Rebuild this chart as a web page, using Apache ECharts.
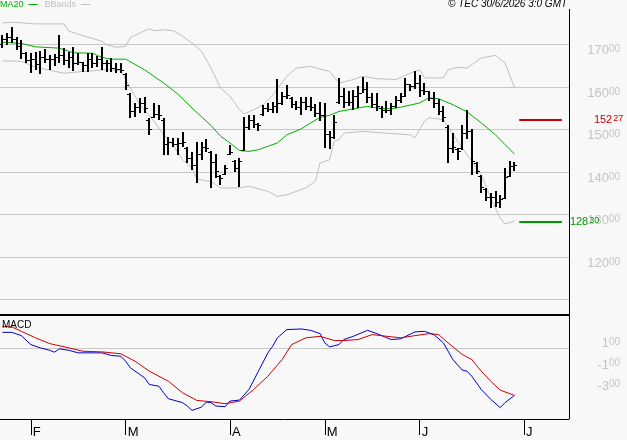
<!DOCTYPE html>
<html><head><meta charset="utf-8">
<script src="https://cdn.jsdelivr.net/npm/echarts@6/dist/echarts.min.js"></script>
<style>html,body{margin:0;padding:0;background:#f8f8f8}#c{width:627px;height:440px}</style>
</head><body><div id="c"></div>
<script>
// trading days (categories)
const tradingDays = {
  '2026-01': [23,26,27,28,29,30],
  '2026-02': [2,3,4,5,6,9,10,11,12,13,16,17,18,19,20,23,24,25,26,27],
  '2026-03': [2,3,4,5,6,9,10,11,12,13,16,17,18,19,20,23,24,25,26,27,30,31],
  '2026-04': [1,2,7,8,9,10,13,14,15,16,17,20,21,22,23,24,27,28,29,30],
  '2026-05': [4,5,6,7,8,11,12,13,14,15,18,19,20,21,22,25,26,27,28,29],
  '2026-06': [1,2,3,4,5,8,9,10,11,12,15,16,17,18,19,22,23,24,25,26,29,30],
  '2026-07': [1,2,3,6,7,8,9,10,13,14]
};
const monthLetters = {'02':'F','03':'M','04':'A','05':'M','06':'J','07':'J'};
const priceTicksShown = [120,130,140,150,160,170];
const macdTicksShown = [1,-1,-3];

const highs = [172.2,172.6,174.0,171.8,171.0,168.3,168.0,168.3,168.5,168.8,
 167.5,167.7,172.3,169.1,168.3,169.3,167.9,165.9,167.9,167.9,
 167.3,169.4,166.3,166.7,165.7,165.7,163.2,158.5,156.1,157.3,
 157.7,152.6,156.1,155.7,152.6,148.3,147.9,147.9,149.4,145.9,
 144.7,147.1,147.1,147.7,144.9,144.2,139.3,141.6,146.3,142.8,
 143.3,152.9,153.4,153.4,151.5,155.7,156.2,156.4,161.8,158.8,
 160.4,157.7,156.7,157.7,157.7,157.6,156.0,156.5,156.2,149.6,
 153.4,162.1,159.7,158.9,159.3,160.1,162.3,161.1,158.5,158.5,
 155.4,156.6,156.2,157.8,158.5,162.0,160.7,163.7,162.8,161.0,
 159.0,158.7,157.1,155.4,150.9,149.2,145.6,151.0,154.5,150.1,
 142.4,139.3,136.2,135.0,135.4,134.6,140.9,142.6,142.2];
const lows = [169.2,169.8,170.2,168.7,166.5,165.5,163.3,164.0,163.0,165.5,
 164.0,164.9,165.5,165.1,164.4,163.8,165.1,163.6,163.6,164.4,
 164.7,164.0,163.6,163.6,163.2,163.2,159.3,152.6,153.0,153.8,
 153.8,148.7,152.6,152.2,144.0,144.0,145.9,144.0,145.9,142.1,
 140.4,137.3,142.8,144.7,136.3,138.5,136.8,139.3,144.0,140.0,
 136.5,144.8,149.8,150.2,149.5,153.1,154.1,153.8,153.8,155.7,
 157.1,155.1,154.5,153.4,154.5,154.3,152.9,152.0,145.6,145.4,
 147.7,156.0,155.0,155.4,154.6,155.0,158.5,156.2,155.0,154.2,
 152.7,153.8,153.4,155.0,156.2,157.5,159.1,159.5,157.7,158.0,
 156.7,155.1,153.3,151.7,142.0,144.4,142.8,145.1,147.7,139.3,
 139.4,135.1,133.2,131.5,131.7,131.4,133.6,138.7,140.3];
const opens = [170.0,171.3,171.8,171.3,169.6,167.9,166.3,166.6,165.3,166.9,
 166.5,166.5,166.9,167.5,166.3,167.1,165.5,165.9,165.2,166.6,
 165.5,166.5,165.6,165.5,164.5,164.3,163.0,158.2,154.4,155.2,
 156.3,152.3,153.0,153.7,152.3,146.6,147.0,146.5,146.7,145.6,
 143.2,141.7,144.2,145.8,144.6,142.3,139.0,139.6,144.3,142.5,
 140.8,145.2,150.5,152.3,151.2,153.5,154.9,154.7,155.6,156.2,
 157.9,157.4,155.9,155.2,156.4,155.5,155.3,153.8,153.4,148.8,
 148.3,156.4,157.8,156.4,156.4,157.9,158.6,159.6,157.7,156.0,
 155.1,154.6,154.6,155.4,157.0,157.8,160.6,160.2,160.8,159.2,
 158.9,157.4,156.2,154.4,150.6,145.5,145.3,145.5,149.2,149.7,
 142.0,139.0,135.9,134.1,134.0,132.8,133.9,139.0,141.4];
const closes = [171.3,171.8,171.3,169.6,167.9,166.3,166.6,165.3,166.9,166.5,
 166.5,166.9,167.5,166.3,167.1,165.5,165.9,165.2,166.6,165.5,
 166.5,165.6,165.5,164.5,164.3,164.0,160.5,154.4,155.2,156.3,
 155.0,150.0,153.7,153.3,146.6,147.0,146.5,146.7,147.0,143.2,
 141.7,144.2,145.8,145.6,142.3,140.2,138.6,140.9,144.7,140.8,
 142.5,150.5,152.3,151.2,150.9,154.9,154.7,155.6,156.2,157.9,
 158.1,155.9,155.2,156.4,155.5,155.3,153.8,153.4,148.8,148.3,
 151.7,157.8,156.4,156.4,157.9,158.6,159.6,157.7,156.0,155.5,
 154.6,154.6,155.4,157.0,157.8,160.6,160.2,160.8,159.2,158.9,
 157.4,156.2,154.4,152.8,145.5,145.8,144.8,149.2,149.7,142.5,
 140.3,136.4,134.1,134.0,132.8,133.6,138.7,141.4,141.5];

// indicator lines read at sampled days: [dayIndex, value]
const ma20 = [[0,170.5],[4,170.2],[7,169.4],[12,169.1],[15,168.0],[19,167.9],[21,166.9],[23,166.5],[26,166.5],[30,164.0],[34,160.9],[37,158.3],[40,155.0],[44,150.9],[46,148.4],[48,146.8],[50,145.0],[52,144.8],[54,145.2],[58,146.8],[60,148.7],[63,150.1],[65,151.5],[67,152.8],[69,153.3],[71,154.2],[74,154.8],[77,155.4],[79,155.0],[82,154.8],[84,155.2],[88,156.2],[90,157.4],[92,157.2],[95,155.8],[98,154.1],[101,151.5],[104,148.7],[106,146.4],[108,144.2]];
const bbUpper = [[0,175.0],[2,175.2],[7,174.8],[13,174.8],[14,173.1],[16,172.4],[21,170.7],[22,169.9],[24,169.3],[26,169.5],[27,171.6],[31,173.7],[32,173.2],[34,173.4],[36,173.2],[38,171.9],[40,170.3],[42,168.4],[44,164.4],[46,159.7],[48,157.8],[50,154.6],[51,153.6],[53,154.6],[55,155.8],[57,158.1],[60,162.5],[62,164.4],[65,164.8],[69,163.6],[71,160.9],[74,161.7],[76,162.5],[79,161.9],[83,161.7],[86,163.2],[88,164.0],[89,162.1],[93,162.1],[94,164.0],[96,164.6],[98,164.4],[101,166.8],[104,167.4],[106,165.6],[108,159.9]];
const bbLower = [[0,166.1],[4,166.0],[7,164.6],[13,163.2],[17,163.6],[22,164.0],[25,163.8],[27,159.7],[29,155.8],[32,151.9],[34,148.7],[36,146.4],[38,142.8],[40,140.9],[41,138.4],[43,137.8],[44,137.8],[46,136.2],[50,136.2],[52,136.6],[56,135.4],[58,134.2],[60,134.6],[64,136.2],[66,137.8],[67,142.1],[69,142.8],[70,147.2],[71,147.6],[72,149.1],[76,149.5],[81,149.1],[86,148.7],[87,148.0],[89,151.9],[90,152.7],[93,152.3],[96,147.2],[98,144.0],[101,139.3],[103,133.8],[105,129.1],[106,127.7],[108,128.4]];
const macdLine = [[0,1.46],[2,1.46],[4,1.15],[6,0.31],[8,0.0],[10,-0.23],[11,-0.41],[12,-0.09],[14,-0.23],[16,-0.47],[21,-0.47],[23,-0.72],[25,-0.79],[26,-1.26],[27,-1.88],[29,-2.51],[30,-2.82],[31,-3.45],[33,-3.61],[34,-4.23],[35,-4.79],[38,-5.16],[39,-5.48],[40,-5.89],[42,-5.58],[43,-5.11],[44,-5.16],[45,-5.48],[47,-5.54],[48,-5.01],[50,-4.92],[52,-3.92],[54,-2.20],[56,-0.47],[57,0.15],[58,0.94],[60,1.72],[63,1.78],[65,1.65],[67,1.34],[68,0.47],[69,0.09],[71,0.31],[72,0.78],[74,1.09],[77,1.65],[79,1.34],[82,0.78],[84,0.85],[87,1.50],[89,1.56],[91,1.25],[93,0.47],[95,-1.10],[97,-2.10],[98,-2.20],[99,-2.67],[101,-3.92],[103,-4.85],[105,-5.63],[106,-5.16],[108,-4.48]];
const signalLine = [[0,2.03],[2,1.97],[4,1.56],[7,0.94],[10,0.40],[14,0.0],[17,-0.32],[21,-0.38],[25,-0.56],[28,-1.26],[31,-2.20],[35,-3.14],[38,-4.23],[41,-4.95],[44,-5.07],[47,-5.26],[50,-5.01],[53,-3.92],[56,-2.67],[59,-1.10],[61,0.31],[64,0.94],[67,1.09],[70,0.69],[72,0.69],[75,0.78],[78,1.25],[81,1.09],[84,0.94],[87,1.15],[90,1.34],[92,1.25],[94,0.47],[97,-0.63],[99,-1.10],[101,-2.20],[103,-3.14],[105,-3.98],[108,-4.48]];
const resistance = 152.27, support = 128.30;
const levelFrom = 109, levelTo = 118;

// build category table
const categories = [];
Object.keys(tradingDays).forEach(m => tradingDays[m].forEach(d => categories.push(m + '-' + String(d).padStart(2,'0'))));
const isMonthStart = categories.map((c,i) => i > 0 && c.slice(5,7) !== categories[i-1].slice(5,7));
const bars = highs.map((h,i) => [i, opens[i], closes[i], lows[i], h]);

const FONT = 'Liberation Sans, Arial, sans-serif';
const GREY = '#c4c4c4';
const near = (v, list) => list.some(t => Math.abs(v - t) < 1e-6);
function splitNum(v){ const s = v.toFixed(2).split('.'); return '{a|' + s[0] + '}{b|' + s[1] + '}'; }

const chart = echarts.init(document.getElementById('c'), null, {renderer:'canvas'});
chart.setOption({
  animation: false,
  backgroundColor: '#f8f8f8',
  textStyle: {fontFamily: FONT},
  title: [
    {text: '\u00a9 TEC 30/6/2026 3:0 GMT', left: 448, top: -1, padding: 0,
     textStyle: {fontSize: 10, fontStyle: 'italic', fontWeight: 'normal', color: '#000', fontFamily: FONT}},
    {text: 'MACD', left: 2, top: 320, padding: 0,
     textStyle: {fontSize: 10, fontWeight: 'normal', color: '#000', fontFamily: FONT}}
  ],
  legend: {
    left: 0, top: 0, padding: 0, align: 'right', icon: 'rect', itemWidth: 9, itemHeight: 1, itemGap: 7,
    selectedMode: false, textStyle: {fontSize: 9, fontFamily: FONT},
    data: [
      {name: 'MA20', textStyle: {color: '#00b000'}, itemStyle: {color: '#00b000'}},
      {name: 'BBands', textStyle: {color: '#c0c0c0'}, itemStyle: {color: '#c0c0c0'}}
    ]
  },
  grid: [
    {left: 0, top: 1.8, width: 569, height: 340},
    {left: 0, top: 316, width: 569, height: 103}
  ],
  xAxis: [
    {type: 'category', gridIndex: 0, data: categories, boundaryGap: true, show: false},
    {type: 'category', gridIndex: 1, data: categories, boundaryGap: true, position: 'bottom',
     axisLine: {show: true, onZero: false, lineStyle: {color: '#000', width: 1}},
     axisTick: {show: true, inside: false, alignWithLabel: true, length: 16, interval: i => isMonthStart[i], lineStyle: {color: '#000', width: 1}},
     axisLabel: {show: true, interval: i => isMonthStart[i], formatter: v => monthLetters[v.slice(5,7)] || '',
       align: 'left', padding: [0,0,0,2], margin: 7, fontSize: 13, color: '#000', fontFamily: FONT},
     splitLine: {show: false}}
  ],
  yAxis: [
    {type: 'value', gridIndex: 0, position: 'right', min: 100, max: 180, interval: 10,
     axisLine: {show: false}, axisTick: {show: false},
     splitLine: {show: true, showMinLine: false, showMaxLine: false, lineStyle: {color: '#c8c8c8', width: 1}},
     axisLabel: {margin: 51, align: 'right', verticalAlign: 'top',
       formatter: v => near(v, priceTicksShown) ? splitNum(v) : '',
       rich: {a: {fontSize: 13, color: GREY, fontFamily: FONT, lineHeight: 13},
              b: {fontSize: 10, color: GREY, fontFamily: FONT, lineHeight: 10, verticalAlign: 'top'}}}},
    {type: 'value', gridIndex: 1, position: 'right', min: -6.7, max: 3.0, interval: 0.1,
     axisLine: {show: false}, axisTick: {show: false}, splitLine: {show: false},
     axisLabel: {margin: 51, align: 'right', verticalAlign: 'top',
       formatter: v => near(v, macdTicksShown) ? '{a|' + Math.round(v) + '}{b|00}' : '',
       rich: {a: {fontSize: 13, color: GREY, fontFamily: FONT, lineHeight: 13},
              b: {fontSize: 10, color: GREY, fontFamily: FONT, lineHeight: 10, verticalAlign: 'top'}}}}
  ],
  series: [
    {name: 'BBands', type: 'line', xAxisIndex: 0, yAxisIndex: 0, data: bbUpper, showSymbol: false, z: 1,
     lineStyle: {color: '#c0c0c0', width: 1}, itemStyle: {color: '#c0c0c0'}},
    {name: 'BBands', type: 'line', xAxisIndex: 0, yAxisIndex: 0, data: bbLower, showSymbol: false, z: 1,
     lineStyle: {color: '#c0c0c0', width: 1}, itemStyle: {color: '#c0c0c0'},
     markLine: {silent: true, symbol: ['none','none'], animation: false,
       lineStyle: {color: '#009900', width: 2, type: 'solid'},
       label: {show: true, position: 'end', distance: 8, formatter: () => splitNum(support).replace('}{', '}{s| }{'),
         rich: {a: {fontSize: 11, color: '#009900', fontFamily: FONT, lineHeight: 11},
                s: {fontSize: 4}, b: {fontSize: 9, color: '#009900', fontFamily: FONT, lineHeight: 9, verticalAlign: 'top'}}},
       data: [[{coord: [levelFrom, support]}, {coord: [levelTo, support]}]]}},
    {name: 'MA20', type: 'line', xAxisIndex: 0, yAxisIndex: 0, data: ma20, showSymbol: false, z: 2,
     lineStyle: {color: '#00b000', width: 1}, itemStyle: {color: '#00b000'},
     markLine: {silent: true, symbol: ['none','none'], animation: false,
       lineStyle: {color: '#cc0000', width: 2, type: 'solid'},
       label: {show: true, position: 'end', distance: 32, formatter: () => splitNum(resistance).replace('}{', '}{s| }{'),
         rich: {a: {fontSize: 11, color: '#cc0000', fontFamily: FONT, lineHeight: 11},
                s: {fontSize: 4}, b: {fontSize: 9, color: '#cc0000', fontFamily: FONT, lineHeight: 9, verticalAlign: 'top'}}},
       data: [[{coord: [levelFrom, resistance]}, {coord: [levelTo, resistance]}]]}},
    {name: 'Price', type: 'custom', xAxisIndex: 0, yAxisIndex: 0, data: bars, z: 3,
     encode: {x: 0, y: [1,2,3,4]},
     renderItem: function(params, api){
       const i = api.value(0);
       const pH = api.coord([i, api.value(4)]);
       const pL = api.coord([i, api.value(3)]);
       const yO = Math.round(api.coord([i, api.value(1)])[1]);
       const yC = Math.round(api.coord([i, api.value(2)])[1]);
       const x = Math.round(pH[0]);
       const top = Math.round(pH[1]);
       const h = Math.max(1, Math.round(pL[1]) - top);
       return {type: 'group', children: [
         {type: 'rect', shape: {x: x - 1, y: top, width: 2, height: h}, style: {fill: '#000'}},
         {type: 'rect', shape: {x: x - 3, y: yO, width: 2, height: 1}, style: {fill: '#000'}},
         {type: 'rect', shape: {x: x + 1, y: yC, width: 2, height: 1}, style: {fill: '#000'}}
       ]};
     }},
    {name: 'MACD', type: 'line', xAxisIndex: 1, yAxisIndex: 1, data: macdLine, showSymbol: false, z: 3,
     lineStyle: {color: '#0000cc', width: 1}, itemStyle: {color: '#0000cc'}},
    {name: 'Signal', type: 'line', xAxisIndex: 1, yAxisIndex: 1, data: signalLine, showSymbol: false, z: 3,
     lineStyle: {color: '#cc0000', width: 1}, itemStyle: {color: '#cc0000'},
     markLine: {silent: true, symbol: ['none','none'], animation: false, z: 1,
       lineStyle: {color: '#c8c8c8', width: 1, type: 'solid'}, label: {show: false},
       data: [{yAxis: 0}]}}
  ],
  graphic: [
    {type: 'line', shape: {x1: 569.5, y1: 9, x2: 569.5, y2: 419}, style: {stroke: '#000', lineWidth: 1}, z: 10},
    {type: 'rect', shape: {x: 0, y: 314, width: 570, height: 2}, style: {fill: '#000'}, z: 10}
  ]
});
</script>
</body></html>
